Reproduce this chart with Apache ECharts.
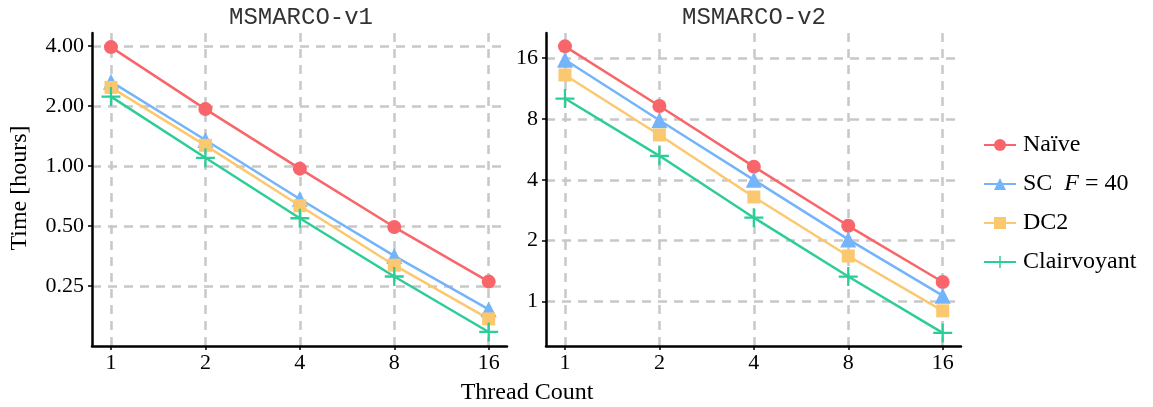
<!DOCTYPE html>
<html>
<head>
<meta charset="utf-8">
<script src="https://cdn.jsdelivr.net/npm/echarts@6/dist/echarts.min.js"></script>
<style>
html, body { margin: 0; padding: 0; background: #fff; }
#main { width: 1153px; height: 407px; }
</style>
</head>
<body>
<div id="main"></div>
<script>
var threads = [1, 2, 4, 8, 16];
var seriesNames = ['Naïve', 'SC F = 40', 'DC2', 'Clairvoyant'];

// MSMARCO-v1, hours
var v1Naive = [3.95, 1.93, 0.97, 0.494, 0.263];
var v1SC = [2.65, 1.35, 0.683, 0.354, 0.191];
var v1DC2 = [2.48, 1.27, 0.632, 0.318, 0.171];
var v1Clair = [2.23, 1.10, 0.547, 0.279, 0.147];

// MSMARCO-v2, hours
var v2Naive = [18.3, 9.28, 4.65, 2.37, 1.25];
var v2SC = [15.7, 7.89, 4.0, 2.03, 1.07];
var v2DC2 = [13.2, 6.67, 3.29, 1.68, 0.90];
var v2Clair = [10.1, 5.26, 2.60, 1.33, 0.70];

var colors = ['#f8666b', '#74b4fb', '#fcc86f', '#2ccd96'];
var plusPath = 'path://M0,8.8H20V11.2H0Z M8.8,0H11.2V20H8.8Z';
var symbols = ['circle', 'triangle', 'rect', plusPath];
var sizes = [14, 16, 13, 19];

var serif = 'Liberation Serif';

var gridDash = { color: '#c8c8c8', width: 2.5, type: [9, 7] };

function pairs(vals) {
    var out = [];
    for (var i = 0; i < threads.length; i++) {
        out.push([threads[i], vals[i]]);
    }
    return out;
}

function makeSeries(name, idx, vals, axisIdx) {
    return {
        name: name,
        type: 'line',
        xAxisIndex: axisIdx,
        yAxisIndex: axisIdx,
        data: pairs(vals),
        symbol: symbols[idx],
        symbolSize: sizes[idx],
        itemStyle: { color: colors[idx] },
        lineStyle: { color: colors[idx], width: 2.5 },
        emphasis: { disabled: true },
        animation: false
    };
}

function xAxisOf(gi) {
    return {
        type: 'log',
        logBase: 2,
        gridIndex: gi,
        min: 0.87,
        max: 18.3,
        axisLine: { lineStyle: { color: '#000', width: 2.5 } },
        axisTick: { show: true, length: 4, lineStyle: { color: '#000', width: 1.5 } },
        axisLabel: { color: '#000', fontFamily: serif, fontSize: 22, margin: 6, showMinLabel: false, showMaxLabel: false },
        splitLine: { show: true, lineStyle: gridDash, showMinLine: false, showMaxLine: false }
    };
}

function yAxisOf(gi, min, max, fmt) {
    return {
        type: 'log',
        logBase: 2,
        gridIndex: gi,
        min: min,
        max: max,
        axisLine: { show: true, lineStyle: { color: '#000', width: 2.5 } },
        axisTick: { show: true, length: 4, lineStyle: { color: '#000', width: 1.5 } },
        axisLabel: { color: '#000', fontFamily: serif, fontSize: 22, margin: 8, showMinLabel: false, showMaxLabel: false, formatter: fmt },
        splitLine: { show: true, lineStyle: gridDash, showMinLine: false, showMaxLine: false }
    };
}

var titleStyle = { fontFamily: 'Liberation Mono', fontSize: 24, fontWeight: 'normal', color: '#333' };

var option = {
    backgroundColor: '#fff',
    animation: false,
    title: [
        { text: 'MSMARCO-v1', left: 224, top: 1, textStyle: titleStyle },
        { text: 'MSMARCO-v2', left: 677, top: 1, textStyle: titleStyle }
    ],
    grid: [
        { left: 92, top: 33, width: 415, height: 313 },
        { left: 546, top: 33, width: 415, height: 313 }
    ],
    xAxis: [xAxisOf(0), xAxisOf(1)],
    yAxis: [
        yAxisOf(0, 0.125, 4.65, function (v) { return v.toFixed(2); }),
        yAxisOf(1, 0.603, 21.3, function (v) { return String(Math.round(v)); })
    ],
    legend: {
        orient: 'vertical',
        left: 978,
        top: 128,
        itemWidth: 32,
        itemHeight: 15,
        itemGap: 15,
        data: seriesNames,
        textStyle: {
            fontFamily: serif, fontSize: 24, color: '#000', padding: [0, 0, 0, 2],
            rich: { it: { fontFamily: serif, fontSize: 24, fontStyle: 'italic', color: '#000' } }
        },
        formatter: function (n) {
            if (n === 'SC F = 40') return 'SC  {it|F} = 40';
            return n;
        }
    },
    graphic: [
        { type: 'text', x: 527, y: 393, style: { text: 'Thread Count', fontFamily: serif, fontSize: 24, fill: '#000', align: 'center', verticalAlign: 'middle' } },
        { type: 'text', x: 20, y: 188, rotation: Math.PI / 2, style: { text: 'Time [hours]', fontFamily: serif, fontSize: 24, fill: '#000', align: 'center', verticalAlign: 'middle' } }
    ],
    series: [
        makeSeries(seriesNames[0], 0, v1Naive, 0),
        makeSeries(seriesNames[1], 1, v1SC, 0),
        makeSeries(seriesNames[2], 2, v1DC2, 0),
        makeSeries(seriesNames[3], 3, v1Clair, 0),
        makeSeries(seriesNames[0], 0, v2Naive, 1),
        makeSeries(seriesNames[1], 1, v2SC, 1),
        makeSeries(seriesNames[2], 2, v2DC2, 1),
        makeSeries(seriesNames[3], 3, v2Clair, 1)
    ]
};

var chart = echarts.init(document.getElementById('main'));
chart.setOption(option);
</script>
</body>
</html>
